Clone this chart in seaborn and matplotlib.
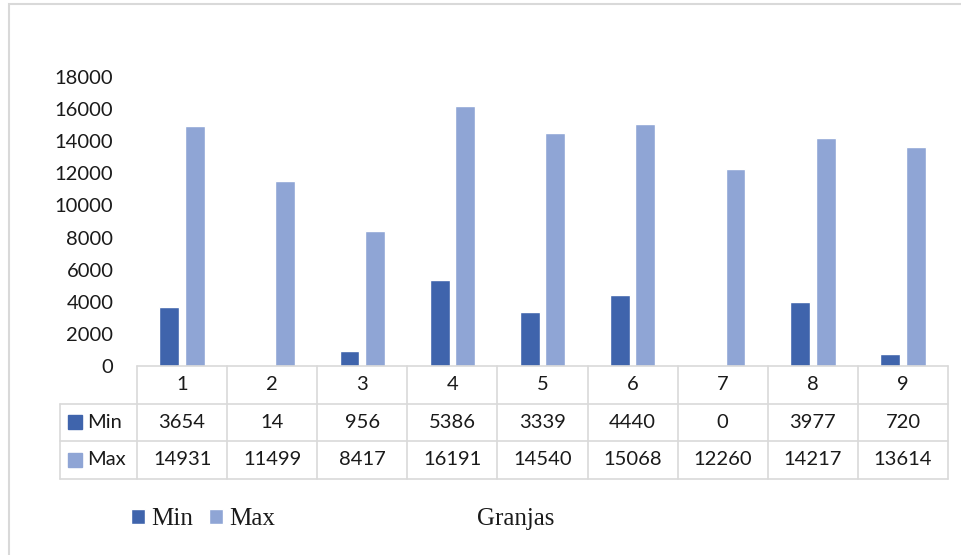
import pandas as pd
import matplotlib.pyplot as plt
from matplotlib.patches import Rectangle
import seaborn as sns

granjas = ['1', '2', '3', '4', '5', '6', '7', '8', '9']
minimos = [3654, 14, 956, 5386, 3339, 4440, 0, 3977, 720]
maximos = [14931, 11499, 8417, 16191, 14540, 15068, 12260, 14217, 13614]
series = ['Min', 'Max']
colores = ['#3F64AC', '#8FA5D5']
yticks = list(range(0, 18001, 2000))

df = pd.DataFrame({
    'Granja': granjas * 2,
    'Serie': ['Min'] * len(granjas) + ['Max'] * len(granjas),
    'Valor': minimos + maximos,
})

sns.set_theme(style='white')
plt.rcParams['font.family'] = ['Lato', 'DejaVu Sans']
txt_color = '#1a1a1a'
fs = 14.5

fig = plt.figure(figsize=(9.61, 5.55), dpi=100)
ax = fig.add_axes([137 / 961, 1 - 366 / 555, 811 / 961, 289 / 555])
sns.barplot(data=df, x='Granja', y='Valor', hue='Serie', palette=colores,
            saturation=1, width=0.567, gap=0.22, ax=ax)

n = len(granjas)
ax.set_ylim(0, 18000)
ax.set_yticks(yticks)
ax.set_yticklabels([str(t) for t in yticks])
ax.tick_params(axis='y', length=0, pad=17, labelsize=fs, colors=txt_color)
ax.set_xticks([])
ax.set_xlabel('')
ax.set_ylabel('')
for s in ax.spines.values():
    s.set_visible(False)

# data table under the bars (axes coordinates)
row_h = 37.5 / 289
lab_left = -77 / 811
grid = dict(color='#D9D9D9', lw=1.2, transform=ax.transAxes, clip_on=False)
ax.plot([0, 1], [0, 0], **grid)
for k in (1, 2, 3):
    ax.plot([lab_left, 1], [-k * row_h] * 2, **grid)
ax.plot([lab_left] * 2, [-row_h, -3 * row_h], **grid)
for i in range(n + 1):
    ax.plot([i / n] * 2, [0, -3 * row_h], **grid)

for i, g in enumerate(granjas):
    ax.text((i + 0.5) / n, -0.5 * row_h, g, ha='center', va='center',
            fontsize=fs, color=txt_color, transform=ax.transAxes)

for r, (name, vals, col) in enumerate(zip(series, [minimos, maximos], colores)):
    y = -(r + 1.5) * row_h
    ax.plot([lab_left + 15 / 811], [y], marker='s', ms=10, color=col, ls='none',
            transform=ax.transAxes, clip_on=False)
    ax.text(lab_left + 27 / 811, y, name, ha='left', va='center',
            fontsize=fs, color=txt_color, transform=ax.transAxes)
    for i, v in enumerate(vals):
        ax.text((i + 0.5) / n, y, str(v), ha='center', va='center',
                fontsize=fs, color=txt_color, transform=ax.transAxes)

ax.set_xlim(-0.5, n - 0.5)

handles, labels = ax.get_legend_handles_labels()
if ax.get_legend() is not None:
    ax.get_legend().remove()
fig.legend(handles, labels, loc='center', bbox_to_anchor=(203 / 961, 1 - 519 / 555),
           ncol=2, frameon=False, prop={'family': 'Liberation Serif', 'size': 18},
           handlelength=0.56, handleheight=0.56, handletextpad=0.25,
           columnspacing=0.6, labelcolor=txt_color)

fig.text(516 / 961, 1 - 519 / 555, 'Granjas', ha='center', va='center',
         family='Liberation Serif', size=18, color=txt_color)

fig.add_artist(Rectangle((9 / 961, -0.05), 1.0, 1 - 4 / 555 + 0.05,
                         transform=fig.transFigure, fill=False,
                         ec='#D9D9D9', lw=1.5))

fig.savefig('out.png', dpi=100)
plt.close()
